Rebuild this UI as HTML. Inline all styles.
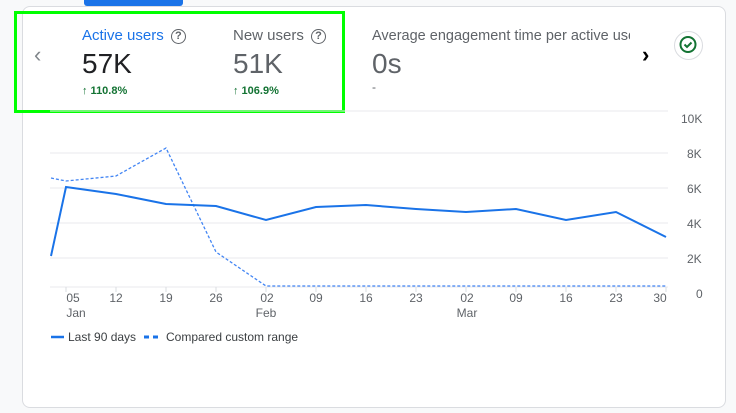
<!DOCTYPE html>
<html><head><style>
body{margin:0;width:736px;height:413px;background:#f8f9fa;font-family:"Liberation Sans",sans-serif;position:relative;overflow:hidden}
.card{position:absolute;left:22px;top:6px;width:702px;height:400px;background:#fff;border:1px solid #dadce0;border-radius:8px}
.t{position:absolute;white-space:nowrap}
.q{display:inline-block;width:13px;height:13px;border:1.6px solid #5f6368;border-radius:50%;color:#5f6368;font-size:11px;line-height:13px;text-align:center;font-weight:bold;vertical-align:1px;margin-left:3px}
</style></head><body>
<div class="card"></div>
<div style="position:absolute;left:84px;top:0;width:99px;height:6px;background:#1a73e8;border-radius:0 0 3px 3px"></div>
<div style="position:absolute;left:14px;top:11px;width:325px;height:96px;border:3px solid #00ff00"></div>
<div class="t" style="left:34px;top:42px;color:#80868b;font-size:22px">‹</div>
<div class="t" style="left:82px;top:27px;color:#1a73e8;font-size:15px">Active users <span class="q">?</span></div>
<div class="t" style="left:82px;top:48px;color:#202124;font-size:28px">57K</div>
<div class="t" style="left:82px;top:85px;color:#137333;font-size:11px;font-weight:bold">↑ 110.8%</div>
<div class="t" style="left:233px;top:27px;color:#5f6368;font-size:15px">New users <span class="q">?</span></div>
<div class="t" style="left:233px;top:48px;color:#5f6368;font-size:28px">51K</div>
<div class="t" style="left:233px;top:85px;color:#137333;font-size:11px;font-weight:bold">↑ 106.9%</div>
<div class="t" style="left:372px;top:28px;color:#5f6368;font-size:14.5px;width:258px;overflow:hidden">Average engagement time per active users</div>
<div class="t" style="left:372px;top:48px;color:#5f6368;font-size:28px">0s</div>
<div class="t" style="left:372px;top:80px;color:#5f6368;font-size:12px">-</div>
<div class="t" style="left:642px;top:42px;color:#000;font-size:22px;font-weight:bold">›</div>
<div style="position:absolute;left:674px;top:31px;width:27px;height:27px;border:1px solid #dadce0;border-radius:50%;background:#fff"></div>
<svg style="position:absolute;left:0;top:0" width="736" height="413">
<circle cx="688" cy="44.5" r="7.5" fill="none" stroke="#137333" stroke-width="2"/>
<path d="M684.5 44.5l2.5 2.5 4.5-4.5" fill="none" stroke="#137333" stroke-width="2"/>
<g stroke="#e8eaed" stroke-width="1">
<line x1="50" y1="111" x2="668" y2="111"/>
<line x1="50" y1="153" x2="668" y2="153"/><line x1="50" y1="188" x2="668" y2="188"/>
<line x1="50" y1="223" x2="668" y2="223"/><line x1="50" y1="258" x2="668" y2="258"/>
<line x1="50" y1="287" x2="668" y2="287"/>
</g>
<g stroke="#dadce0"><line x1="66" y1="287" x2="66" y2="292"/><line x1="116" y1="287" x2="116" y2="292"/><line x1="166" y1="287" x2="166" y2="292"/><line x1="216" y1="287" x2="216" y2="292"/><line x1="266" y1="287" x2="266" y2="292"/><line x1="316" y1="287" x2="316" y2="292"/><line x1="366" y1="287" x2="366" y2="292"/><line x1="416" y1="287" x2="416" y2="292"/><line x1="466" y1="287" x2="466" y2="292"/><line x1="516" y1="287" x2="516" y2="292"/><line x1="566" y1="287" x2="566" y2="292"/><line x1="616" y1="287" x2="616" y2="292"/><line x1="666" y1="287" x2="666" y2="292"/></g>
<polyline fill="none" stroke="#4285f4" stroke-width="1.3" stroke-dasharray="3,2" points="51,178 66,181 116,176 166,148 216,252 266,286 666,286"/>
<polyline fill="none" stroke="#1a73e8" stroke-width="2" points="51,256 66,187 116,194 166,204 216,206 266,220 316,207 366,205 416,209 466,212 516,209 566,220 616,212 666,237"/>
<g font-size="12" fill="#5f6368" font-family="Liberation Sans,sans-serif">
<text x="681" y="123">10K</text><text x="687" y="158">8K</text><text x="687" y="193">6K</text><text x="687" y="228">4K</text><text x="687" y="263">2K</text><text x="696" y="298">0</text>
<g text-anchor="middle"><text x="73" y="302">05</text><text x="116" y="302">12</text><text x="166" y="302">19</text><text x="216" y="302">26</text><text x="267" y="302">02</text><text x="316" y="302">09</text><text x="366" y="302">16</text><text x="416" y="302">23</text><text x="467" y="302">02</text><text x="516" y="302">09</text><text x="566" y="302">16</text><text x="616" y="302">23</text><text x="660" y="302">30</text>
<text x="76" y="317">Jan</text><text x="266" y="317">Feb</text><text x="467" y="317">Mar</text></g>
<text x="68" y="341" fill="#3c4043">Last 90 days</text><text x="166" y="341" fill="#3c4043">Compared custom range</text></g>
<line x1="51" y1="337" x2="64" y2="337" stroke="#1a73e8" stroke-width="2.5"/>
<line x1="144" y1="337" x2="161" y2="337" stroke="#1a73e8" stroke-width="3" stroke-dasharray="5,4"/>
</svg>
</body></html>
